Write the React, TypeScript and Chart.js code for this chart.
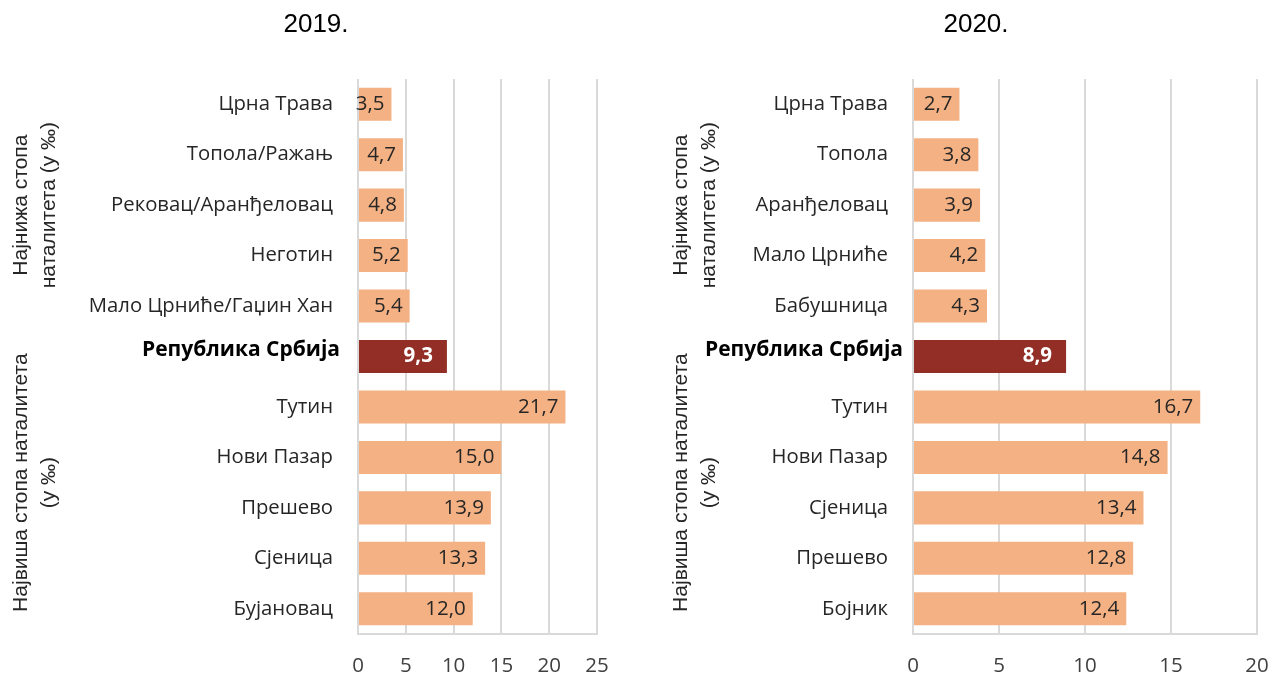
import React, { useEffect, useRef } from "react";
import { Chart, registerables } from "chart.js";

Chart.register(...registerables);

const categories2019 = [
  "Црна Трава",
  "Топола/Ражањ",
  "Рековац/Аранђеловац",
  "Неготин",
  "Мало Црниће/Гаџин Хан",
  "Република Србија",
  "Тутин",
  "Нови Пазар",
  "Прешево",
  "Сјеница",
  "Бујановац",
];
const values2019 = [3.5, 4.7, 4.8, 5.2, 5.4, 9.3, 21.7, 15.0, 13.9, 13.3, 12.0];

const categories2020 = [
  "Црна Трава",
  "Топола",
  "Аранђеловац",
  "Мало Црниће",
  "Бабушница",
  "Република Србија",
  "Тутин",
  "Нови Пазар",
  "Сјеница",
  "Прешево",
  "Бојник",
];
const values2020 = [2.7, 3.8, 3.9, 4.2, 4.3, 8.9, 16.7, 14.8, 13.4, 12.8, 12.4];

const highlightIndex = 5;
const lowGroupTitle = ["Најнижа стопа", "наталитета (у ‰)"];
const highGroupTitle = ["Највиша стопа наталитета", "(у ‰)"];

const LIGHT = "#F4B183";
const DARK = "#922E25";
const LABEL_FONT = "'Open Sans', sans-serif";
const ARIAL = "'Liberation Sans', Arial, sans-serif";

const fmt = (v: number) => v.toFixed(1).replace(".", ",");

const customPlugin = {
  id: "custom",
  afterDraw(chart: any, _args: any, opts: any) {
    const ctx = chart.ctx;
    const ys = chart.scales.y;
    const area = chart.chartArea;
    ctx.save();
    // title
    ctx.fillStyle = "#000";
    ctx.font = `26px ${ARIAL}`;
    ctx.textAlign = "center";
    ctx.textBaseline = "middle";
    ctx.fillText(opts.title, opts.titleX, 25);

    // category labels
    const labels = chart.data.labels as string[];
    labels.forEach((lab, i) => {
      const y = ys.getPixelForValue(i);
      ctx.textAlign = "right";
      ctx.textBaseline = "middle";
      if (i === highlightIndex) {
        ctx.font = `bold 21px ${LABEL_FONT}`;
        ctx.fillStyle = "#000";
        ctx.fillText(lab, area.left - opts.boldGap, y - 6);
      } else {
        ctx.font = `20.3px ${LABEL_FONT}`;
        ctx.fillStyle = "#262626";
        ctx.fillText(lab, area.left - 25, y);
      }
    });

    // data labels
    const meta = chart.getDatasetMeta(0);
    const data = chart.data.datasets[0].data as number[];
    meta.data.forEach((bar: any, i: number) => {
      ctx.textAlign = "right";
      ctx.textBaseline = "middle";
      if (i === highlightIndex) {
        ctx.font = `bold 20.5px ${LABEL_FONT}`;
        ctx.fillStyle = "#fff";
        ctx.fillText(fmt(data[i]), bar.x - 14, bar.y);
      } else {
        ctx.font = `20.5px ${LABEL_FONT}`;
        ctx.fillStyle = "#262626";
        ctx.fillText(fmt(data[i]), bar.x - 7, bar.y);
      }
    });

    // group axis titles
    const drawGroup = (lines: string[], from: number, to: number) => {
      const cy = (ys.getPixelForValue(from) + ys.getPixelForValue(to)) / 2;
      ctx.save();
      ctx.translate(0, cy);
      ctx.rotate(-Math.PI / 2);
      ctx.font = `21px ${ARIAL}`;
      ctx.fillStyle = "#262626";
      ctx.textAlign = "center";
      ctx.textBaseline = "middle";
      ctx.fillText(lines[0], 0, 21);
      ctx.fillText(lines[1], 0, 49);
      ctx.restore();
    };
    drawGroup(lowGroupTitle, 0, 4);
    drawGroup(highGroupTitle, 5, 10);
    ctx.restore();
  },
};

function BarPanel(props: {
  labels: string[];
  values: number[];
  max: number;
  title: string;
  yWidth: number;
  padRight: number;
  boldGap: number;
  width: number;
  left: number;
}) {
  const ref = useRef<HTMLCanvasElement>(null);
  useEffect(() => {
    if (!ref.current) return;
    const chart = new Chart(ref.current, {
      type: "bar",
      data: {
        labels: props.labels,
        datasets: [
          {
            data: props.values,
            backgroundColor: props.values.map((_, i) => (i === highlightIndex ? DARK : LIGHT)),
            categoryPercentage: 1,
            barPercentage: 0.655,
          },
        ],
      },
      options: {
        indexAxis: "y",
        animation: false,
        responsive: false,
        maintainAspectRatio: false,
        layout: { padding: { top: 79, right: props.padRight, left: 0, bottom: 0 } },
        plugins: {
          legend: { display: false },
          tooltip: { enabled: false },
          title: { display: false },
          custom: { title: props.title, titleX: 316, boldGap: props.boldGap },
        } as any,
        scales: {
          x: {
            min: 0,
            max: props.max,
            ticks: {
              stepSize: 5,
              padding: 20,
              color: "#404040",
              font: { family: LABEL_FONT, size: 20.5 },
            },
            grid: { color: "#D9D9D9", lineWidth: 2, drawTicks: false },
            border: { display: true, color: "#D9D9D9", width: 2 },
            afterFit: (s: any) => {
              s.height = 43;
              s.paddingLeft = 0;
              s.paddingRight = 0;
            },
          },
          y: {
            type: "category",
            ticks: { display: false },
            grid: { display: false, drawTicks: false },
            border: { display: false },
            afterFit: (s: any) => {
              s.width = props.yWidth;
              s.paddingTop = 0;
              s.paddingBottom = 0;
            },
          },
        },
      },
      plugins: [customPlugin],
    });
    return () => chart.destroy();
  }, []);
  return (
    <canvas
      ref={ref}
      width={props.width}
      height={677}
      style={{ position: "absolute", left: props.left, top: 0, width: props.width, height: 677 }}
    />
  );
}

export default function App() {
  return (
    <div
      style={{
        position: "fixed",
        left: 0,
        top: 0,
        width: 1271,
        height: 677,
        background: "#fff",
        overflow: "hidden",
      }}
    >
      <BarPanel
        labels={categories2019}
        values={values2019}
        max={25}
        title="2019."
        yWidth={358}
        padRight={35}
        boldGap={18}
        width={632}
        left={0}
      />
      <BarPanel
        labels={categories2020}
        values={values2020}
        max={20}
        title="2020."
        yWidth={253}
        padRight={14}
        boldGap={10}
        width={611}
        left={660}
      />
    </div>
  );
}
